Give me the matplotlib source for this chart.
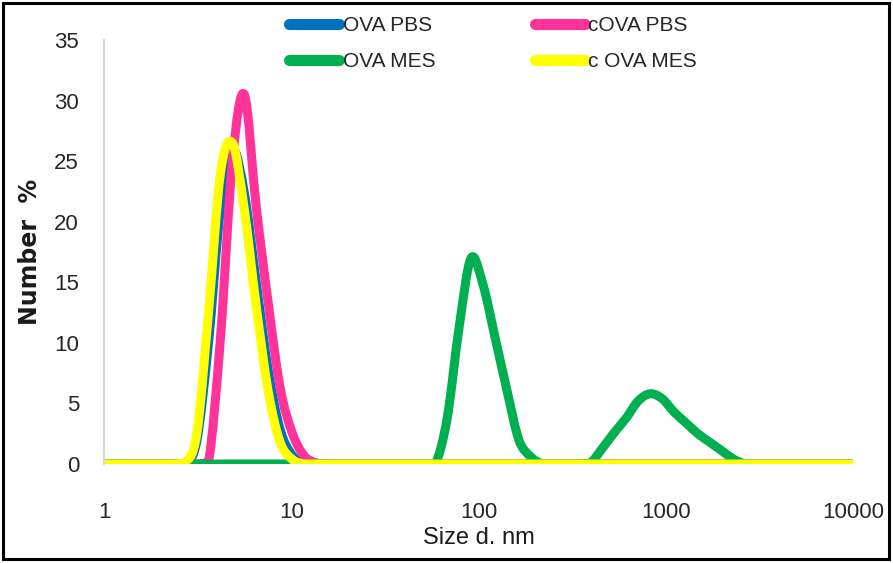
import matplotlib
matplotlib.use("Agg")
import matplotlib.pyplot as plt
import numpy as np
from matplotlib.lines import Line2D
from matplotlib.patches import Rectangle, PathPatch
from matplotlib.path import Path

# Zetasizer size classes (d. nm)
sizes = [0.9649, 1.117, 1.294, 1.499, 1.736, 2.010, 2.328, 2.696, 3.122, 3.615,
         4.187, 4.849, 5.615, 6.503, 7.531, 8.721, 10.10, 11.70, 13.54, 15.69,
         18.17, 21.04, 24.36, 28.21, 32.67, 37.84, 43.82, 50.75, 58.77, 68.06,
         78.82, 91.28, 105.7, 122.4, 141.8, 164.2, 190.1, 220.2, 255.0, 295.3,
         342.0, 396.1, 458.7, 531.2, 615.1, 712.4, 825.0, 955.4, 1106, 1281,
         1484, 1718, 1990, 2305, 2669, 3091, 3580, 4145, 4801, 5560,
         6439, 7456, 8635, 10000]

# Number % per size class
ova_pbs = [0, 0, 0, 0, 0, 0, 0, 0, 1.8, 10.0,
           21.1, 26.0, 22.4, 15.0, 7.75, 2.85, 0.75, 0.1, 0, 0,
           0, 0, 0, 0, 0, 0, 0, 0, 0, 0,
           0, 0, 0, 0, 0, 0, 0, 0, 0, 0,
           0, 0, 0, 0, 0, 0, 0, 0, 0, 0,
           0, 0, 0, 0, 0, 0, 0, 0, 0, 0,
           0, 0, 0, 0]
cova_pbs = [0, 0, 0, 0, 0, 0, 0, 0, 0, 0.2,
            10.4, 25.0, 30.5, 21.2, 13.3, 6.3, 2.6, 0.7, 0.1, 0,
            0, 0, 0, 0, 0, 0, 0, 0, 0, 0,
            0, 0, 0, 0, 0, 0, 0, 0, 0, 0,
            0, 0, 0, 0, 0, 0, 0, 0, 0, 0,
            0, 0, 0, 0, 0, 0, 0, 0, 0, 0,
            0, 0, 0, 0]
ova_mes = [0, 0, 0, 0, 0, 0, 0, 0, 0, 0,
           0, 0, 0, 0, 0, 0, 0, 0, 0, 0,
           0, 0, 0, 0, 0, 0, 0, 0, 0, 3.8,
           11.3, 17.0, 14.8, 10.5, 6.1, 2.0, 0.6, 0, 0, 0,
           0, 0.1, 1.3, 2.6, 3.8, 5.2, 5.8, 5.4, 4.3, 3.4,
           2.5, 1.8, 1.1, 0.4, 0, 0, 0, 0, 0, 0,
           0, 0, 0, 0]
cova_mes = [0, 0, 0, 0, 0, 0, 0, 0.1, 2.4, 12.5,
            24.0, 26.5, 21.0, 13.0, 6.0, 1.8, 0.4, 0, 0, 0,
            0, 0, 0, 0, 0, 0, 0, 0, 0, 0,
            0, 0, 0, 0, 0, 0, 0, 0, 0, 0,
            0, 0, 0, 0, 0, 0, 0, 0, 0, 0,
            0, 0, 0, 0, 0, 0, 0, 0, 0, 0,
            0, 0, 0, 0]

labels = ["OVA PBS", "cOVA PBS", "OVA MES", "c OVA MES"]
colors = ["#0070C0", "#FF3399", "#00B050", "#FFFF00"]

font = "Liberation Sans"


def smooth_path(xs, ys):
    # cubic Bezier through every point (Excel-style smoothed line),
    # tangents taken in log-x space
    lx = np.log10(xs)
    ys = np.asarray(ys, float)
    verts = [(xs[0], ys[0])]
    codes = [Path.MOVETO]
    n = len(lx)
    for i in range(n - 1):
        p0 = max(i - 1, 0)
        p3 = min(i + 2, n - 1)
        c1x = lx[i] + (lx[i + 1] - lx[p0]) / 6
        c1y = ys[i] + (ys[i + 1] - ys[p0]) / 6
        c2x = lx[i + 1] - (lx[p3] - lx[i]) / 6
        c2y = ys[i + 1] - (ys[p3] - ys[i]) / 6
        verts += [(10 ** c1x, max(c1y, 0)), (10 ** c2x, max(c2y, 0)),
                  (xs[i + 1], ys[i + 1])]
        codes += [Path.CURVE4] * 3
    return Path(verts, codes)


fig = plt.figure(figsize=(8.93, 5.63), dpi=100)
ax = fig.add_axes([104 / 893, 99 / 563, 749 / 893, 424 / 563])

for ys, c in zip([ova_pbs, cova_pbs, ova_mes, cova_mes], colors):
    ax.add_patch(PathPatch(smooth_path(sizes, ys), facecolor="none",
                           edgecolor=c, lw=6.5, joinstyle="round",
                           capstyle="butt"))

ax.set_xscale("log")
ax.set_xlim(1, 10000)
ax.set_ylim(0, 35)
ax.set_xticks([1, 10, 100, 1000, 10000])
ax.set_xticklabels(["1", "10", "100", "1000", "10000"])
ax.set_yticks(range(0, 36, 5))
ax.minorticks_off()
ax.tick_params(length=0)
ax.tick_params(axis="x", pad=27)
ax.tick_params(axis="y", pad=18)
for t in ax.get_xticklabels() + ax.get_yticklabels():
    t.set_family(font)
    t.set_fontsize(16)
    t.set_color("#262626")

for s in ["top", "right", "bottom"]:
    ax.spines[s].set_visible(False)
ax.spines["left"].set_color("#D9D9D9")
ax.spines["left"].set_linewidth(1.5)

ax.set_xlabel("Size d. nm", family=font, fontsize=17, color="#1a1a1a",
              labelpad=3)
ax.set_ylabel("Number  %", family="DejaVu Sans", fontweight="bold",
              fontsize=17, color="#1a1a1a", labelpad=9)

# legend filled column by column, so reorder to read row by row
order = [0, 2, 1, 3]
handles = [Line2D([], [], color=colors[i], lw=8, solid_capstyle="round")
           for i in order]
leg = ax.legend(handles, [labels[i] for i in order], ncol=2, loc="upper left",
                bbox_to_anchor=(279 / 893, 1 - 6 / 563),
                bbox_transform=fig.transFigure, frameon=False,
                handlelength=2.4, handletextpad=0.15, columnspacing=4.8,
                labelspacing=0.8, borderpad=0,
                prop={"family": font, "size": 15})
for t in leg.get_texts():
    t.set_color("#262626")

# outer frame
fig.patches.append(Rectangle((3 / 893, 4 / 563), 886 / 893, 556 / 563,
                             transform=fig.transFigure, fill=False,
                             edgecolor="black", lw=2.2))

fig.savefig("out.png", dpi=100)
